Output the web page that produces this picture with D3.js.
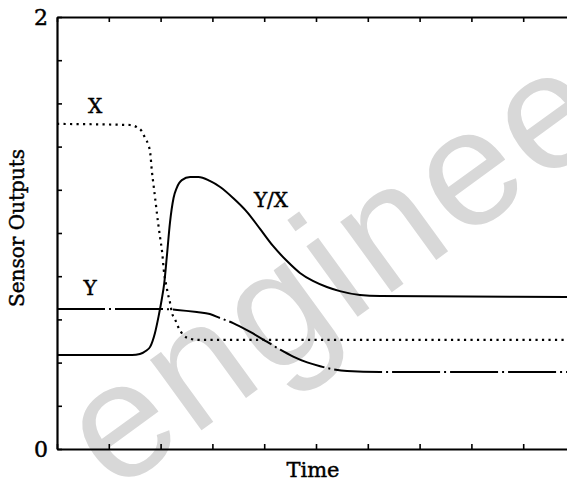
<!DOCTYPE html>
<html>
<head>
<meta charset="utf-8">
<script src="https://cdn.jsdelivr.net/npm/d3@7"></script>
<style>
  body { margin: 0; background: #fff; }
  svg { display: block; }
  text { font-family: "DejaVu Serif", "Liberation Serif", serif; }
  .lbl { stroke: #000; stroke-width: 0.45px; }
</style>
</head>
<body>
<svg id="chart" width="567" height="483"></svg>
<script>
// values: [time, output]
var xSensor = [
  [0, 1.505], [1.41, 1.50], [1.54, 1.49], [1.64, 1.47], [1.70, 1.44], [1.76, 1.41],
  [1.80, 1.37], [1.83, 1.29], [1.87, 1.21], [1.91, 1.13], [1.95, 1.05], [1.99, 0.98],
  [2.03, 0.91], [2.07, 0.81], [2.10, 0.77], [2.14, 0.72], [2.18, 0.68], [2.22, 0.63],
  [2.28, 0.60], [2.34, 0.565], [2.43, 0.53], [2.57, 0.51], [2.76, 0.505], [10, 0.505]
];
var ySensor = [
  [0, 0.648], [1.99, 0.648], [2.32, 0.644], [2.70, 0.634], [2.95, 0.625], [3.15, 0.606],
  [3.40, 0.583], [3.73, 0.542], [4.05, 0.497], [4.31, 0.460], [4.56, 0.428], [4.83, 0.401],
  [5.08, 0.383], [5.33, 0.369], [5.60, 0.361], [6.24, 0.357], [10, 0.356]
];
var ratio = [
  [0, 0.435], [1.45, 0.435], [1.60, 0.44], [1.72, 0.455], [1.80, 0.474], [1.89, 0.536],
  [1.96, 0.613], [2.02, 0.69], [2.07, 0.767], [2.12, 0.89], [2.18, 1.046], [2.25, 1.162],
  [2.31, 1.208], [2.41, 1.245], [2.57, 1.259], [2.73, 1.259], [2.95, 1.241], [3.15, 1.213],
  [3.40, 1.162], [3.67, 1.097], [3.92, 1.019], [4.17, 0.940], [4.44, 0.870], [4.69, 0.815],
  [4.94, 0.778], [5.21, 0.750], [5.46, 0.731], [5.85, 0.713], [6.24, 0.708], [10, 0.704]
];
var xTicks = d3.range(0, 11, 1);
var yTicks = d3.range(0, 2.01, 0.2);
var yLabels = [0, 2];

var svg = d3.select('#chart');
//note: "top" is taken by window.top, so prefix these
var plotLeft = 57, plotTop = 17, plotBottom = 449, plotRight = 575;

var x = d3.scaleLinear().domain([0, 10]).range([plotLeft, plotRight]);
var y = d3.scaleLinear().domain([0, 2]).range([plotBottom, plotTop]);

//Watermark behind everything.
svg.append('text')
  .attr('transform', 'translate(114,494) rotate(-36)')
  .attr('fill', '#d8d8d8')
  .style('font-family', 'Liberation Sans, Arial, sans-serif')
  .style('font-size', '165px')
  .style('letter-spacing', '5px')
  .text('engineer');

var line = d3.line()
  .x(function (d) { return x(d[0]); })
  .y(function (d) { return y(d[1]); })
  .curve(d3.curveMonotoneX);

svg.append('path').datum(ratio)
  .attr('d', line).attr('fill', 'none')
  .attr('stroke', '#000').attr('stroke-width', 2);

svg.append('path').datum(ySensor)
  .attr('d', line).attr('fill', 'none')
  .attr('stroke', '#000').attr('stroke-width', 2)
  .attr('stroke-dasharray', '48,4,2,4');

svg.append('path').datum(xSensor)
  .attr('d', line).attr('fill', 'none')
  .attr('stroke', '#000').attr('stroke-width', 2.2)
  .attr('stroke-dasharray', '2.2,4.3');

//Axes, ticks point inward.
function styleAxis (g) {
  g.selectAll('.domain').attr('stroke-width', 2.2);
  g.selectAll('.tick line').attr('stroke-width', 1.6);
}

svg.append('g')
  .attr('transform', 'translate(0,' + plotBottom + ')')
  .call(d3.axisBottom(x).tickValues(xTicks).tickSizeInner(-5).tickSizeOuter(0).tickFormat(''))
  .call(styleAxis);

svg.append('g')
  .attr('transform', 'translate(0,' + plotTop + ')')
  .call(d3.axisTop(x).tickValues(xTicks).tickSizeInner(-5).tickSizeOuter(0).tickFormat(''))
  .call(styleAxis);

var yAxis = svg.append('g')
  .attr('transform', 'translate(' + plotLeft + ',0)')
  .call(d3.axisLeft(y).tickValues(yTicks).tickSizeInner(-5).tickSizeOuter(0).tickPadding(9)
    .tickFormat(function (d) { return yLabels.indexOf(Math.round(d * 10) / 10) >= 0 ? Math.round(d) : ''; }))
  .call(styleAxis);
yAxis.selectAll('text')
  .attr('class', 'lbl')
  .style('font-family', 'DejaVu Serif, serif')
  .style('font-size', '22px')
  .attr('fill', '#000');

//Series labels.
svg.append('text').attr('class', 'lbl').attr('x', 95).attr('y', 113).attr('text-anchor', 'middle')
  .style('font-size', '20px').text('X');
svg.append('text').attr('class', 'lbl').attr('x', 90).attr('y', 295).attr('text-anchor', 'middle')
  .style('font-size', '20px').text('Y');
svg.append('text').attr('class', 'lbl').attr('x', 271).attr('y', 207).attr('text-anchor', 'middle')
  .style('font-size', '20px').text('Y/X');

//Axis titles.
svg.append('text').attr('class', 'lbl').attr('x', 313).attr('y', 477).attr('text-anchor', 'middle')
  .style('font-size', '21px').text('Time');
svg.append('text').attr('class', 'lbl')
  .attr('transform', 'translate(24,228) rotate(-90)')
  .attr('text-anchor', 'middle')
  .style('font-size', '20px').text('Sensor Outputs');
</script>
</body>
</html>
